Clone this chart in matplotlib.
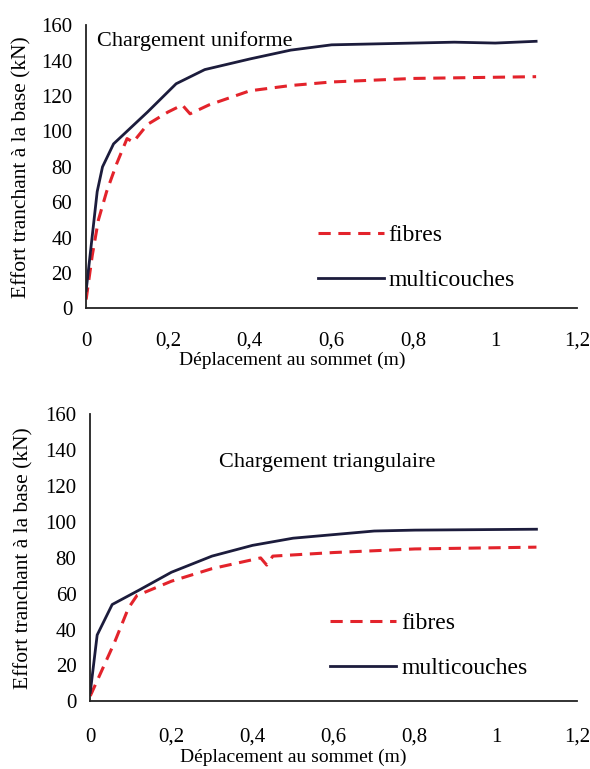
import matplotlib
matplotlib.use("Agg")
import matplotlib.pyplot as plt

plt.rcParams['font.family'] = ['Liberation Serif', 'DejaVu Serif']

# Chargement uniforme
uni_multi_x = [0, 0.027, 0.04, 0.067, 0.15, 0.22, 0.29, 0.4, 0.5, 0.6, 0.7, 0.8, 0.9, 1.0, 1.1]
uni_multi_y = [10, 66, 80, 93, 111, 127, 135, 141, 146, 149, 149.5, 150, 150.5, 150, 151]
uni_fib_x = [0, 0.015, 0.03, 0.05, 0.075, 0.1, 0.115, 0.15, 0.2, 0.235, 0.254, 0.3, 0.4, 0.5, 0.6, 0.8, 1.1]
uni_fib_y = [5, 30, 50, 66, 82, 96, 94, 104, 111, 115, 110, 115, 123, 126, 128, 130, 131]

# Chargement triangulaire
tri_multi_x = [0, 0.017, 0.054, 0.12, 0.2, 0.3, 0.4, 0.5, 0.6, 0.7, 0.8, 1.1]
tri_multi_y = [5, 37, 54, 62, 72, 81, 87, 91, 93, 95, 95.5, 96]
tri_fib_x = [0, 0.03, 0.06, 0.094, 0.115, 0.2, 0.3, 0.4, 0.42, 0.435, 0.45, 0.6, 0.8, 1.1]
tri_fib_y = [3, 18, 33, 52, 59, 67, 74, 79, 80, 76, 81, 83, 85, 86]

x_ticks = [0, 0.2, 0.4, 0.6, 0.8, 1.0, 1.2]
x_labels = ['0', '0,2', '0,4', '0,6', '0,8', '1', '1,2']
y_ticks = [0, 20, 40, 60, 80, 100, 120, 140, 160]

red = '#e3232b'
navy = '#1c1c3c'

fig = plt.figure(figsize=(5.9, 7.69), dpi=100)
ax1 = fig.add_axes([0.146, 0.599, 0.832, 0.368])
ax2 = fig.add_axes([0.153, 0.088, 0.825, 0.373])

panels = [
    (ax1, uni_fib_x, uni_fib_y, uni_multi_x, uni_multi_y, 'Chargement uniforme',
     (0.022, 0.945), (0.472, 0.297), 17, (0.42, -0.152), -0.112),
    (ax2, tri_fib_x, tri_fib_y, tri_multi_x, tri_multi_y, 'Chargement triangulaire',
     (0.264, 0.834), (0.493, 0.309), 19, (0.417, -0.165), -0.117),
]

for ax, fx, fy, mx, my, title, tpos, lpos, xpad, xlpos, yl_x in panels:
    ax.plot(fx, fy, color=red, lw=2.2, ls=(0, (4, 2.5)), label='fibres')
    ax.plot(mx, my, color=navy, lw=2, label='multicouches')
    ax.set_xlim(0, 1.2)
    ax.set_ylim(0, 160)
    ax.set_xticks(x_ticks)
    ax.set_xticklabels(x_labels)
    ax.set_yticks(y_ticks)
    ax.tick_params(axis='x', length=0, pad=xpad, labelsize=15)
    ax.tick_params(axis='y', length=0, pad=10, labelsize=15)
    for s in ['top', 'right']:
        ax.spines[s].set_visible(False)
    for s in ['left', 'bottom']:
        ax.spines[s].set_color('#222222')
        ax.spines[s].set_linewidth(1.3)
    ax.text(tpos[0], tpos[1], title, transform=ax.transAxes, fontsize=16,
            va='center', ha='left')
    ax.set_ylabel('Effort tranchant à la base (kN)', fontsize=15.5)
    ax.yaxis.set_label_coords(yl_x, 0.5)
    ax.set_xlabel('Déplacement au sommet (m)', fontsize=14)
    ax.xaxis.set_label_coords(*xlpos)
    ax.legend(loc='upper left', bbox_to_anchor=lpos, frameon=False, fontsize=17,
              handlelength=2.8, handletextpad=0.2, labelspacing=1.0,
              borderpad=0, borderaxespad=0)

fig.savefig('out.png', dpi=100)
